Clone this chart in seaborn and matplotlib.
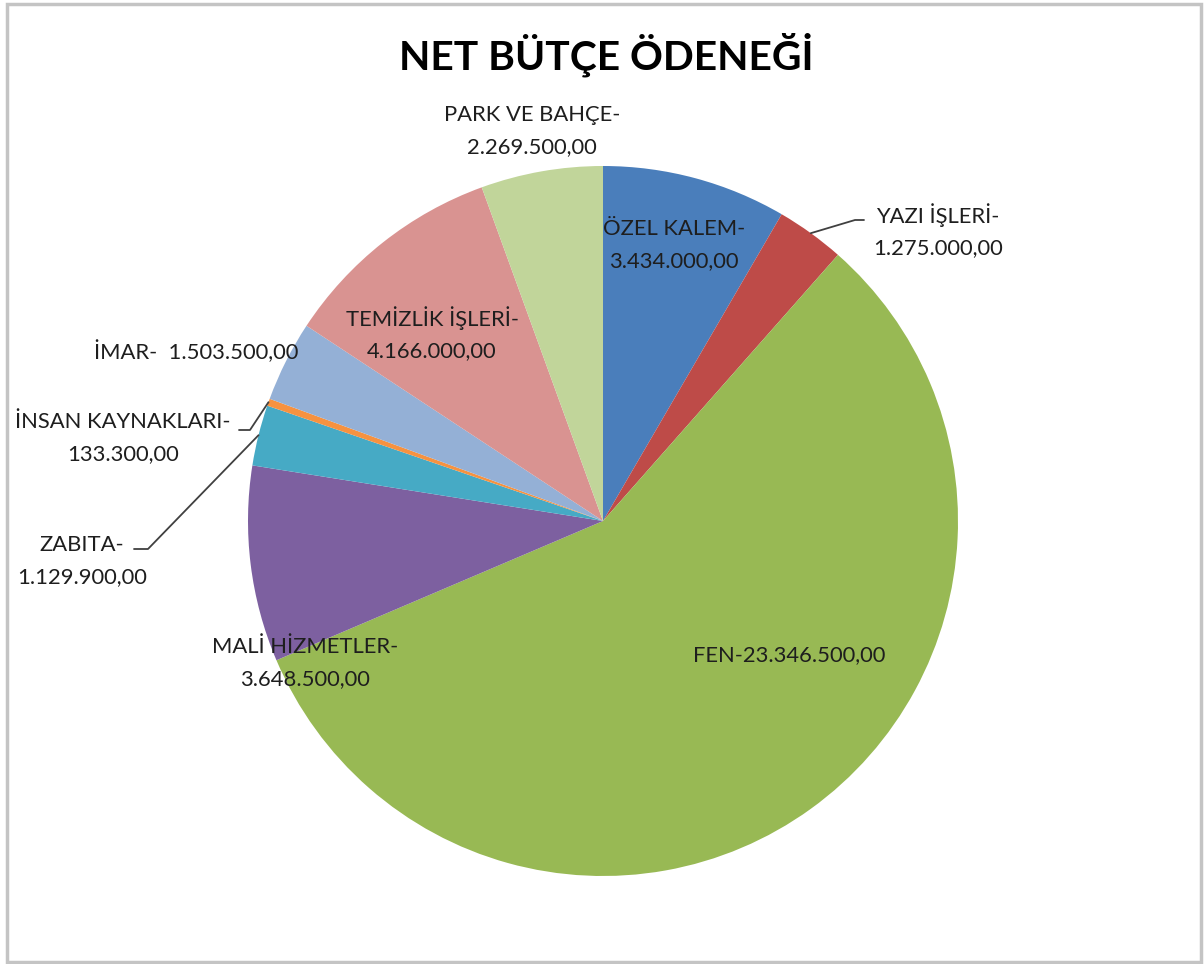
import numpy as np
import matplotlib
matplotlib.use("Agg")
import matplotlib.pyplot as plt
import seaborn as sns

# Budget units and their net appropriation (TL)
units = ["ÖZEL KALEM", "YAZI İŞLERİ", "FEN", "MALİ HİZMETLER", "ZABITA",
         "İNSAN KAYNAKLARI", "İMAR", "TEMİZLİK İŞLERİ", "PARK VE BAHÇE"]
amounts = [3434000.00, 1275000.00, 23346500.00, 3648500.00, 1129900.00,
           133300.00, 1503500.00, 4166000.00, 2269500.00]
value_labels = ["3.434.000,00", "1.275.000,00", "23.346.500,00", "3.648.500,00",
                "1.129.900,00", "133.300,00", "1.503.500,00", "4.166.000,00",
                "2.269.500,00"]
slice_colors = ["#4A7EBB", "#BE4B48", "#98B954", "#7D60A0", "#46AAC5",
                "#F69240", "#94B0D6", "#D99391", "#C1D59A"]

sns.set_theme(style="white")
plt.rcParams["font.family"] = ["Lato", "DejaVu Sans"]

W, H = 1204, 964
CX, CY, R = 603, 521, 355  # pie centre / radius in pixels


def px(x, y):
    """pixel position -> data coords of the full-figure axes"""
    return (x - CX) / R, (CY - y) / R


fig = plt.figure(figsize=(W / 100, H / 100), dpi=100)
ax = fig.add_axes([0, 0, 1, 1])

wedges, _ = ax.pie(amounts, colors=slice_colors, startangle=90, counterclock=False,
                   radius=1, wedgeprops=dict(linewidth=0))

# pie() resets the limits, so set them afterwards
ax.set_xlim(-CX / R, (W - CX) / R)
ax.set_ylim(-(H - CY) / R, CY / R)
ax.set_aspect("equal")
ax.axis("off")

# label text layout (pixel centres, one or two lines)
label_pos = {
    "ÖZEL KALEM": (674, 245, True),
    "YAZI İŞLERİ": (938, 231, True),
    "FEN": (789, 655, False),
    "MALİ HİZMETLER": (305, 663, True),
    "ZABITA": (82, 561, True),
    "İNSAN KAYNAKLARI": (123, 438, True),
    "İMAR": (196, 352, False),
    "TEMİZLİK İŞLERİ": (432, 334, True),
    "PARK VE BAHÇE": (532, 131, True),
}
leader_bends = {
    "YAZI İŞLERİ": [(855, 220), (864, 220)],
    "ZABITA": [(148, 549), (134, 549)],
    "İNSAN KAYNAKLARI": [(250, 430), (239, 430)],
}

txt_color = "#1E1E1E"
for w, name, val in zip(wedges, units, value_labels):
    x, y, two_lines = label_pos[name]
    if two_lines:
        s = f"{name}-\n{val}"
    elif name == "FEN":
        s = f"{name}-{val}"
    else:
        s = f"{name}-  {val}"
    tx, ty = px(x, y)
    ax.text(tx, ty, s, ha="center", va="center", fontsize=15.8, color=txt_color,
            linespacing=1.7)
    if name in leader_bends:
        mid = np.deg2rad((w.theta1 + w.theta2) / 2)
        pts = [(np.cos(mid), np.sin(mid))] + [px(*p) for p in leader_bends[name]]
        xs, ys = zip(*pts)
        ax.plot(xs, ys, color="#404040", lw=1.3)

fig.text(606 / W, 1 - 55 / H, "NET BÜTÇE ÖDENEĞİ", ha="center", va="center",
         fontsize=29.3, fontweight="bold", color="black")

# chart-area border
fig.add_artist(plt.Rectangle((7 / W, 2 / H), 1194 / W, 958 / H, transform=fig.transFigure,
                             fill=False, edgecolor="#C4C4C4", lw=2.5))

fig.savefig("out.png", dpi=100, facecolor="white")
